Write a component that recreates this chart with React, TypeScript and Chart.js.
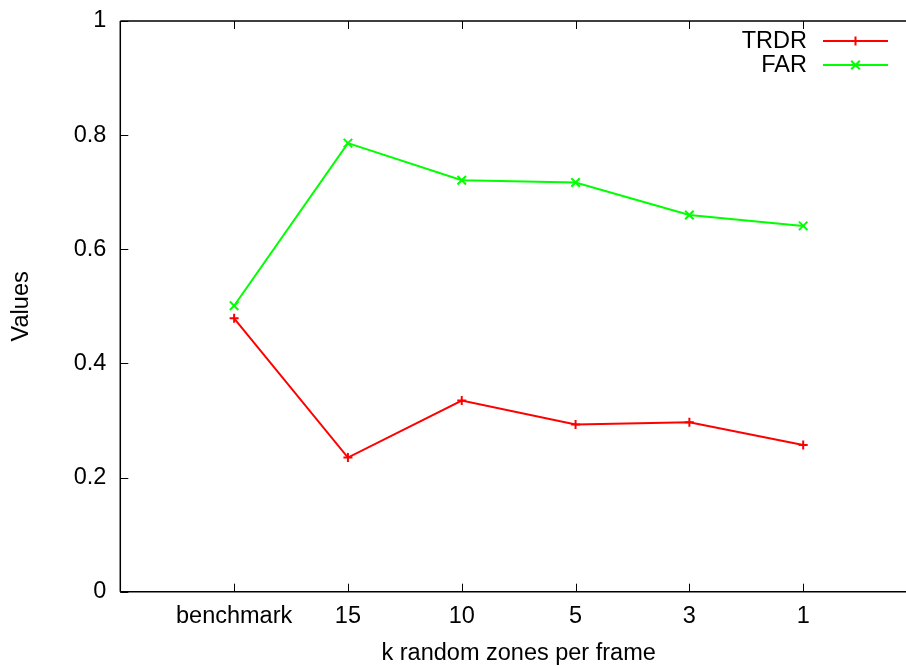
import React, { useEffect, useRef } from "react";
import { Chart, registerables } from "chart.js";

Chart.register(...registerables);

const categories = ["benchmark", "15", "10", "5", "3", "1"];
const trdrValues = [0.479, 0.235, 0.335, 0.293, 0.297, 0.257];
const farValues = [0.501, 0.786, 0.721, 0.717, 0.66, 0.641];
const yTickLabels = ["0", "0.2", "0.4", "0.6", "0.8", "1"];
const seriesNames = ["TRDR", "FAR"];
const seriesColors = ["#ff0000", "#00ff00"];
const xTitle = "k random zones per frame";
const yTitle = "Values";

const FONT_FAMILY = "'Liberation Sans', Arial, Helvetica, sans-serif";
const FONT_SIZE = 23.5;
const CANVAS_W = 940;
const CANVAS_H = 666;

const framePlugin = {
  id: "gnuFrame",
  beforeDatasetsDraw(chart: any) {
    const { ctx, chartArea: a, scales } = chart;
    const x = scales.x;
    const y = scales.y;
    ctx.save();
    ctx.strokeStyle = "#000";
    ctx.lineWidth = 1.5;
    ctx.beginPath();
    ctx.moveTo(a.left, a.top);
    ctx.lineTo(a.right, a.top);
    ctx.moveTo(a.left, a.bottom);
    ctx.lineTo(a.right, a.bottom);
    ctx.moveTo(a.left, a.top);
    ctx.lineTo(a.left, a.bottom);
    ctx.moveTo(a.right, a.top);
    ctx.lineTo(a.right, a.bottom);
    ctx.stroke();
    ctx.lineWidth = 1;
    ctx.beginPath();
    categories.forEach((_, i) => {
      const px = Math.round(x.getPixelForValue(i)) + 0.5;
      ctx.moveTo(px, a.bottom);
      ctx.lineTo(px, a.bottom - 8);
      ctx.moveTo(px, a.top);
      ctx.lineTo(px, a.top + 8);
    });
    yTickLabels.forEach((l) => {
      const py = Math.round(y.getPixelForValue(parseFloat(l))) + 0.5;
      ctx.moveTo(a.left, py);
      ctx.lineTo(a.left + 8, py);
      ctx.moveTo(a.right, py);
      ctx.lineTo(a.right - 8, py);
    });
    ctx.stroke();
    ctx.restore();
  },
  afterDraw(chart: any) {
    const { ctx, chartArea: a } = chart;
    ctx.save();
    ctx.fillStyle = "#000";
    ctx.font = `${FONT_SIZE}px ${FONT_FAMILY}`;
    ctx.textBaseline = "middle";
    ctx.textAlign = "center";
    ctx.fillText(xTitle, (a.left + a.right) / 2, 654);
    ctx.save();
    ctx.translate(22, (a.top + a.bottom) / 2);
    ctx.rotate(-Math.PI / 2);
    ctx.fillText(yTitle, 0, 0);
    ctx.restore();
    const rows = [41, 65];
    seriesNames.forEach((name, i) => {
      const ly = rows[i];
      ctx.textAlign = "right";
      ctx.fillStyle = "#000";
      ctx.fillText(name, 807, ly + 1);
      ctx.strokeStyle = seriesColors[i];
      ctx.lineWidth = 2;
      ctx.beginPath();
      ctx.moveTo(823, ly);
      ctx.lineTo(888, ly);
      const cx = 855.5;
      if (i === 0) {
        ctx.moveTo(cx - 4.5, ly);
        ctx.lineTo(cx + 4.5, ly);
        ctx.moveTo(cx, ly - 4.5);
        ctx.lineTo(cx, ly + 4.5);
      } else {
        const d = 4.3;
        ctx.moveTo(cx - d, ly - d);
        ctx.lineTo(cx + d, ly + d);
        ctx.moveTo(cx - d, ly + d);
        ctx.lineTo(cx + d, ly - d);
      }
      ctx.stroke();
    });
    ctx.restore();
  },
};

export default function App() {
  const ref = useRef<HTMLCanvasElement | null>(null);

  useEffect(() => {
    if (!ref.current) return;
    const font = { family: FONT_FAMILY, size: FONT_SIZE };
    const chart = new Chart(ref.current, {
      type: "line",
      data: {
        datasets: [
          {
            label: seriesNames[0],
            data: trdrValues.map((v, i) => ({ x: i, y: v })),
            borderColor: seriesColors[0],
            backgroundColor: seriesColors[0],
            borderWidth: 2,
            pointStyle: "cross",
            pointRadius: 4.5,
            pointBorderWidth: 2,
            pointBorderColor: seriesColors[0],
            fill: false,
            tension: 0,
          },
          {
            label: seriesNames[1],
            data: farValues.map((v, i) => ({ x: i, y: v })),
            borderColor: seriesColors[1],
            backgroundColor: seriesColors[1],
            borderWidth: 2,
            pointStyle: "crossRot",
            pointRadius: 6,
            pointBorderWidth: 2,
            pointBorderColor: seriesColors[1],
            fill: false,
            tension: 0,
          },
        ],
      },
      options: {
        animation: false,
        responsive: false,
        devicePixelRatio: 1,
        layout: { padding: { top: 21, right: CANVAS_W - 917, left: 0, bottom: 0 } },
        plugins: {
          legend: { display: false },
          tooltip: { enabled: false },
        },
        scales: {
          x: {
            type: "linear",
            min: -1,
            max: 6,
            afterBuildTicks: (s: any) => {
              s.ticks = categories.map((_, i) => ({ value: i }));
            },
            afterFit: (s: any) => {
              s.height = 74.3;
              s.paddingLeft = 0;
              s.paddingRight = 0;
            },
            ticks: {
              callback: (v: any) => categories[v as number] ?? "",
              font,
              color: "#000",
              padding: 11,
              maxRotation: 0,
              autoSkip: false,
            },
            grid: { display: false, drawTicks: false },
            border: { display: false },
          },
          y: {
            type: "linear",
            min: 0,
            max: 1,
            afterBuildTicks: (s: any) => {
              s.ticks = yTickLabels.map((l) => ({ value: parseFloat(l) }));
            },
            afterFit: (s: any) => {
              s.width = 120.3;
              s.paddingTop = 0;
              s.paddingBottom = 0;
            },
            ticks: {
              callback: (_v: any, i: number) => yTickLabels[i],
              font,
              color: "#000",
              padding: 14,
            },
            grid: { display: false, drawTicks: false },
            border: { display: false },
          },
        },
      },
      plugins: [framePlugin],
    });
    return () => chart.destroy();
  }, []);

  return (
    <div
      style={{
        position: "fixed",
        left: 0,
        top: 0,
        width: 906,
        height: 666,
        overflow: "hidden",
        background: "#fff",
      }}
    >
      <canvas
        ref={ref}
        width={CANVAS_W}
        height={CANVAS_H}
        style={{ width: CANVAS_W, height: CANVAS_H, display: "block" }}
      />
    </div>
  );
}
